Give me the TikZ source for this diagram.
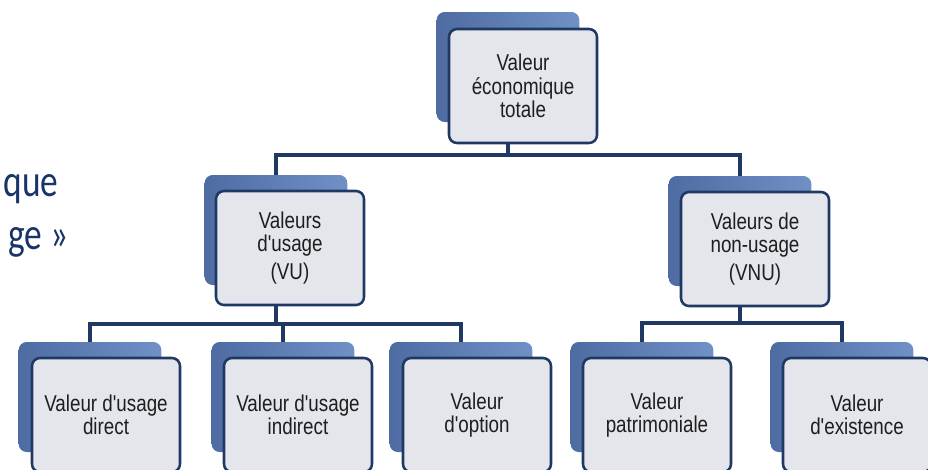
\documentclass[tikz,border=0pt]{standalone}
\usepackage{fontspec}
\usetikzlibrary{backgrounds}
\newfontfamily\boxfont[FakeStretch=0.82]{Liberation Sans}
\newfontfamily\slidefont[FakeStretch=0.78]{Carlito}
\definecolor{navy}{RGB}{31,56,100}
\definecolor{boxgray}{RGB}{228,230,236}
\definecolor{shadowdark}{RGB}{78,108,162}
\definecolor{shadowlight}{RGB}{112,144,198}
\definecolor{slideblue}{RGB}{24,52,104}
\definecolor{boxtext}{RGB}{30,30,30}

\tikzset{every picture/.style={line width=0.75pt}}
\tikzset{
  shadowbox/.style={rounded corners=6pt, left color=shadowdark, right color=shadowlight,
    minimum width=107pt, minimum height=82.5pt, inner sep=0pt},
  frontbox/.style={draw=navy, line width=1.9pt, rounded corners=6pt, fill=boxgray,
    minimum width=111pt, minimum height=85.5pt, inner sep=0pt, align=center,
    text=boxtext, font=\boxfont\fontsize{17.2pt}{17.5pt}\selectfont},
  link/.style={draw=navy, line width=3pt},
  slidetext/.style={anchor=base west, inner sep=0pt, text=slideblue,
    font=\slidefont\fontsize{34pt}{38pt}\selectfont}
}

\begin{document}
\begin{tikzpicture}[x=0.75pt,y=0.75pt,yscale=-1,xscale=1]
\path[use as bounding box, clip] (0,0) rectangle (928,469);

% Slide text, cut at the left edge
\node[slidetext] (txtque) at (3,196) {que};
\node[slidetext] (txtusage) at (8,249) {ge »};

%Shadow boxes
\node[shadowbox] (vet-s) at (508,67) {};
\node[shadowbox] (vu-s) at (276,230) {};
\node[shadowbox] (vnu-s) at (740,231) {};
\node[shadowbox] (direct-s) at (90,397) {};
\node[shadowbox] (indirect-s) at (283,397) {};
\node[shadowbox] (option-s) at (461,397) {};
\node[shadowbox] (patri-s) at (642,397) {};
\node[shadowbox] (exist-s) at (842,397) {};

%Front boxes
\node[frontbox] (vet) at (523,86) {Valeur\\économique\\totale};
\node[frontbox] (vu) at (290,248) {Valeurs\\d'usage\\[3pt](VU)};
\node[frontbox] (vnu) at (755,249) {Valeurs de\\non-usage\\[3pt](VNU)};
\node[frontbox] (direct) at (106,415) {Valeur d'usage\\direct};
\node[frontbox] (indirect) at (298,415) {Valeur d'usage\\indirect};
\node[frontbox] (option) at (477,415) {Valeur\\d'option};
\node[frontbox] (patri) at (657,415) {Valeur\\patrimoniale};
\node[frontbox] (exist) at (857,415) {Valeur\\d'existence};

%Connectors
\coordinate (bus1) at (508,155);
\coordinate (bus2) at (276,324);
\coordinate (bus3) at (740,323);
\begin{scope}[on background layer]
\draw[link] (vet-s.center) -- (bus1) -| (vu-s.center);
\draw[link] (bus1) -| (vnu-s.center);
\draw[link] (vu-s.center) -- (bus2) -| (direct-s.center);
\draw[link] (bus2) -| (indirect-s.center);
\draw[link] (bus2) -| (option-s.center);
\draw[link] (vnu-s.center) -- (bus3) -| (patri-s.center);
\draw[link] (bus3) -| (exist-s.center);
\end{scope}

\end{tikzpicture}
\end{document}
